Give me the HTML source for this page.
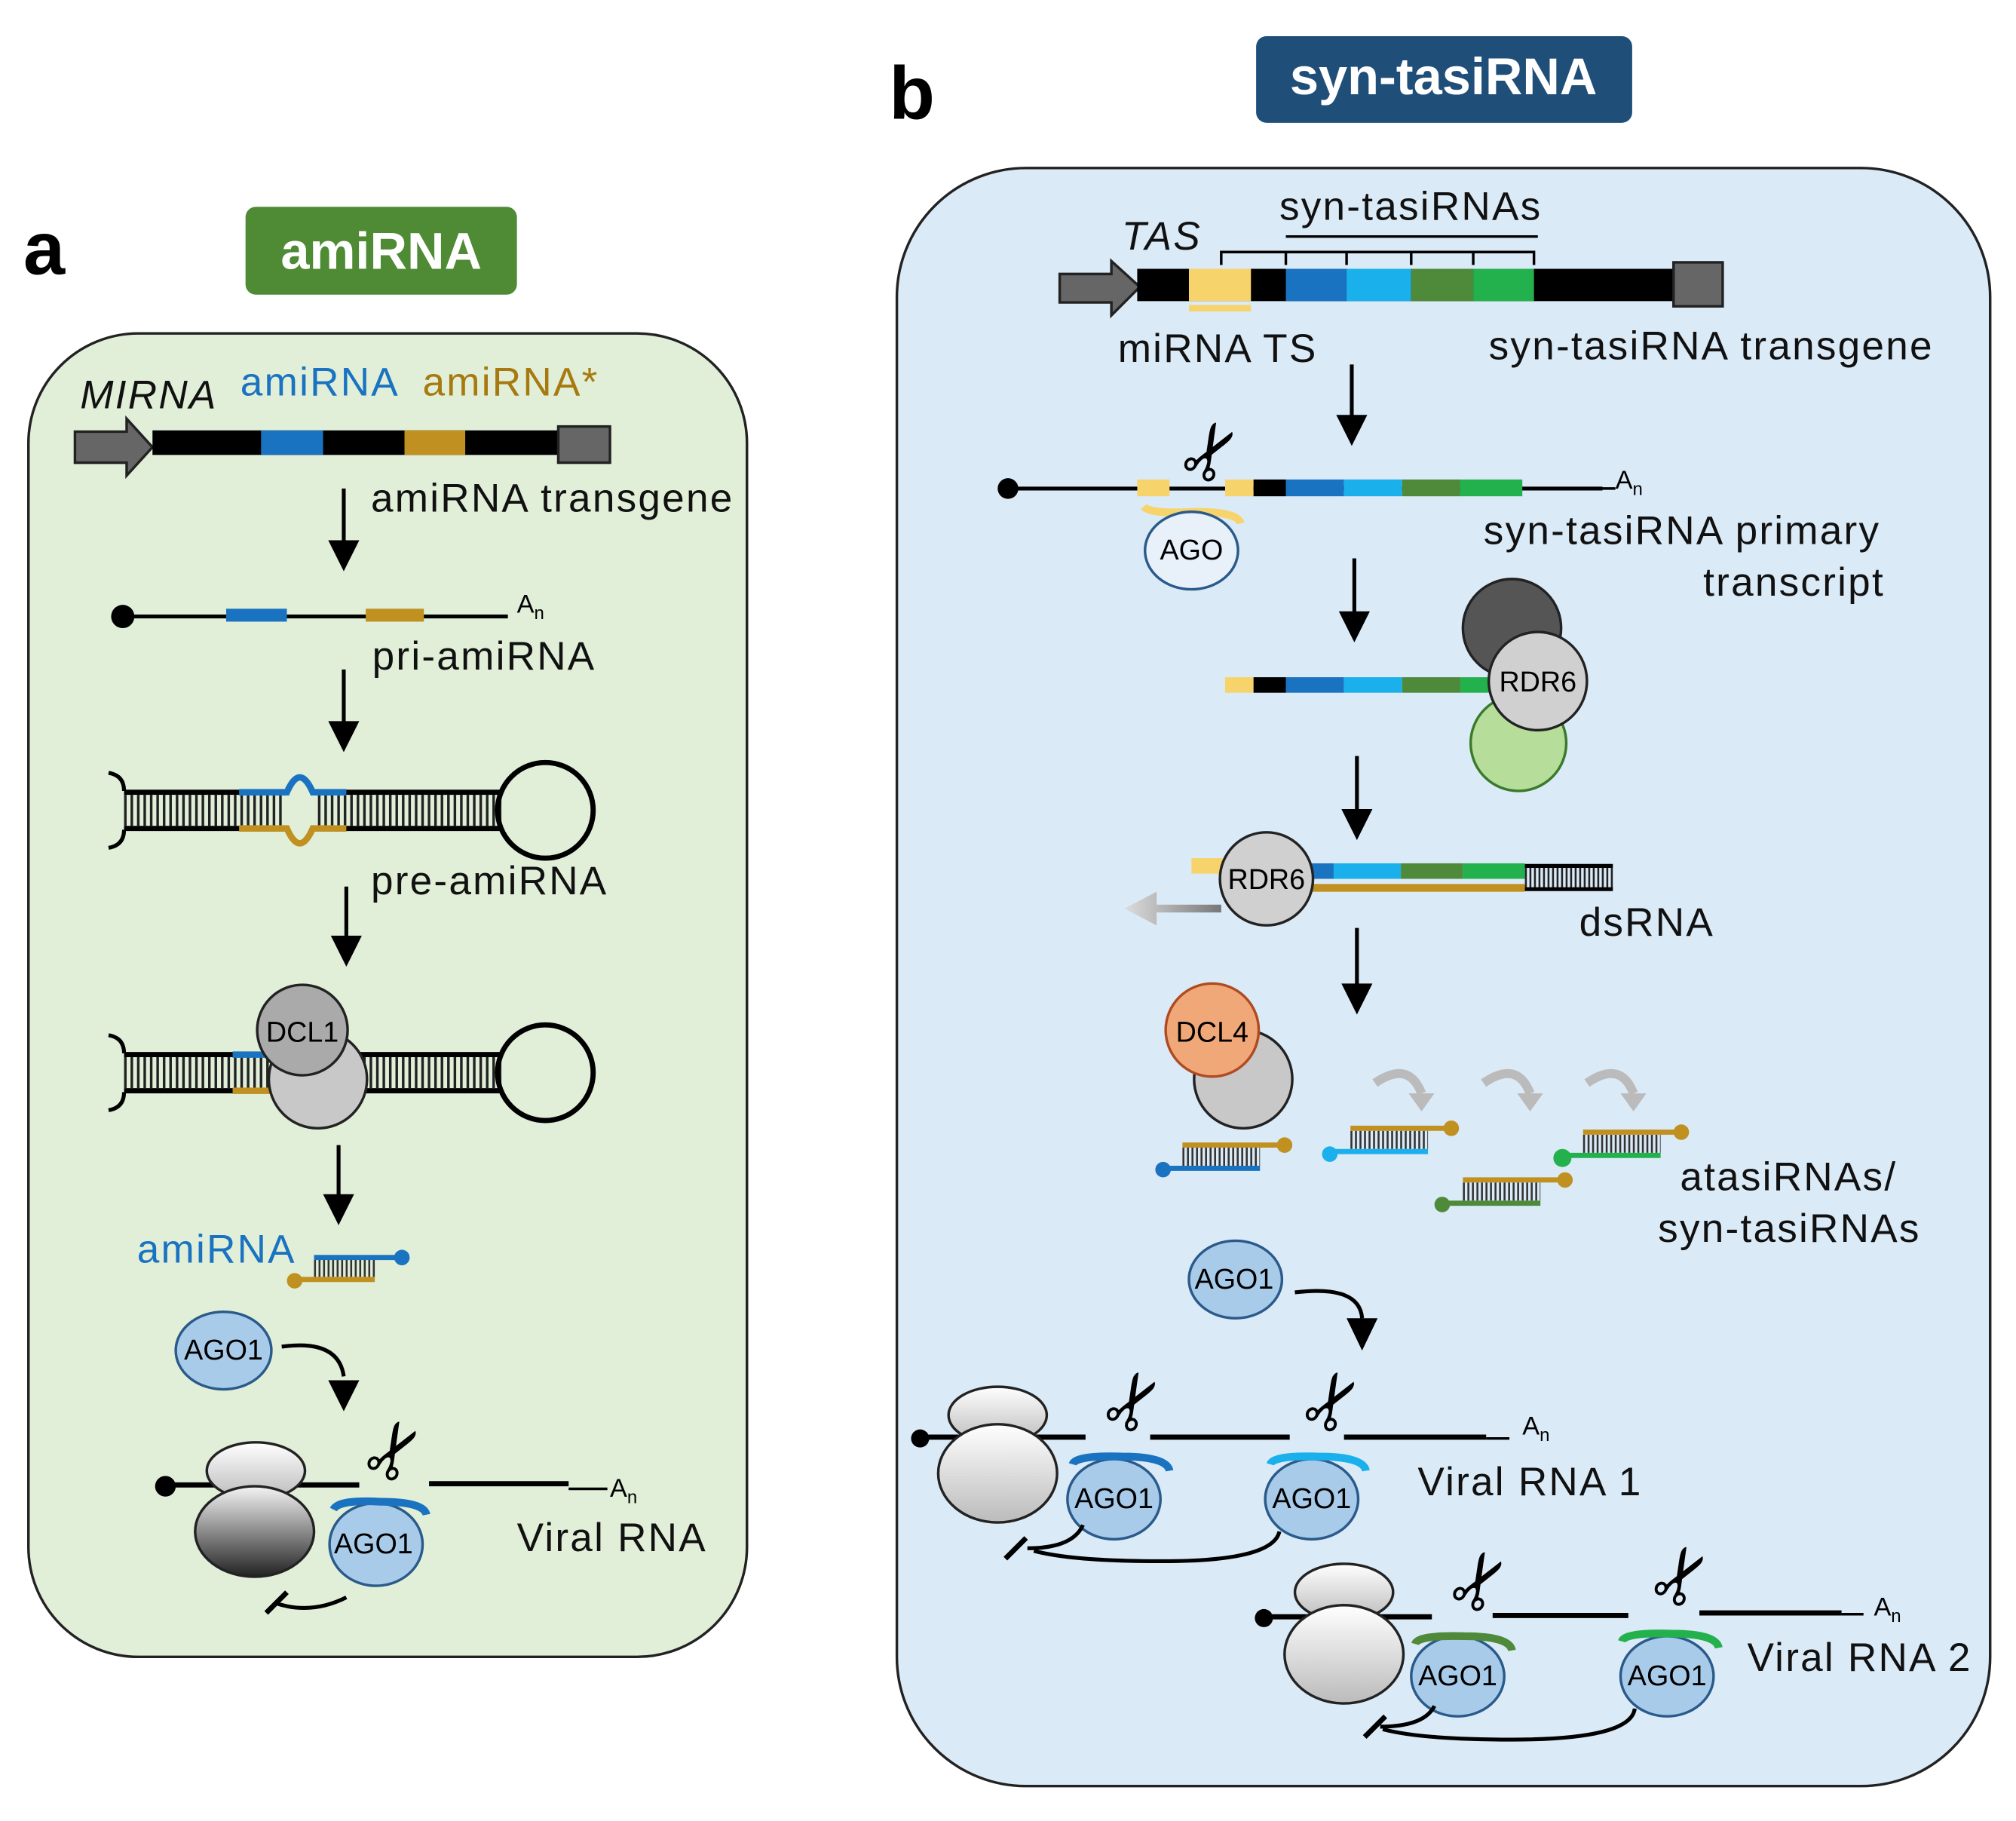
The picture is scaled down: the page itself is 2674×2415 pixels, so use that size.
<!DOCTYPE html>
<html><head><meta charset="utf-8"><style>
html,body{margin:0;padding:0;background:#fff;}
svg{display:block;}
text{font-family:"Liberation Sans",sans-serif;}
</style></head><body>
<svg width="2674" height="2415" viewBox="0 0 1560 1409" preserveAspectRatio="none" xmlns="http://www.w3.org/2000/svg">
<defs>
<linearGradient id="dk" x1="0" y1="0" x2="0" y2="1"><stop offset="0" stop-color="#f4f4f4"/><stop offset="1" stop-color="#222"/></linearGradient>
<linearGradient id="wt" x1="0" y1="0" x2="0" y2="1"><stop offset="0" stop-color="#fff"/><stop offset="1" stop-color="#bbb"/></linearGradient>
<linearGradient id="ga" x1="1" y1="0" x2="0" y2="0"><stop offset="0" stop-color="#777"/><stop offset="1" stop-color="#ddd"/></linearGradient>
</defs>
<style>
.lbl{font-size:31px;fill:#111;letter-spacing:1.3px;}
.ar{stroke:#000;stroke-width:3;fill:none;}
.hd{fill:#000;}
.sc{font-size:58px;}
</style>

<!-- Panel a -->
<text x="18" y="212" font-size="58" font-weight="bold">a</text>
<rect x="190" y="160" width="210" height="68" rx="8" fill="#4f8a34"/>
<text x="295" y="208" font-size="40" font-weight="bold" fill="#fff" text-anchor="middle">amiRNA</text>
<rect x="22" y="258" width="556" height="1024" rx="85" fill="#e1efd9" stroke="#222" stroke-width="2"/>

<text x="62" y="316" font-style="italic" class="lbl">MIRNA</text>
<text x="186" y="306" class="lbl" style="fill:#1a73c0">amiRNA</text>
<text x="327" y="306" class="lbl" style="fill:#a77a10">amiRNA*</text>
<path d="M58,334 H98 V324 L118,346 L98,368 V358 H58 Z" fill="#666" stroke="#222" stroke-width="2"/>
<rect x="118" y="333" width="314" height="19" fill="#000"/>
<rect x="202" y="333" width="48" height="19" fill="#1a73c0"/>
<rect x="313" y="333" width="47" height="19" fill="#c09020"/>
<rect x="432" y="330" width="40" height="28" fill="#666" stroke="#222" stroke-width="2"/>
<line x1="266" y1="378" x2="266" y2="420" class="ar"/><path d="M254,418 L278,418 L266,442 z" class="hd"/>
<text x="287" y="396" class="lbl">amiRNA transgene</text>

<circle cx="95" cy="477" r="9" fill="#000"/>
<line x1="95" y1="477" x2="393" y2="477" stroke="#000" stroke-width="3"/>
<rect x="175" y="471" width="47" height="10" fill="#1a73c0"/>
<rect x="283" y="471" width="45" height="10" fill="#c09020"/>
<text x="400" y="474" font-size="20">A<tspan font-size="14" dy="5">n</tspan></text>
<text x="288" y="518" class="lbl">pri-amiRNA</text>
<line x1="266" y1="518" x2="266" y2="560" class="ar"/><path d="M254,558 L278,558 L266,582 z" class="hd"/>

<g>
<path d="M84,598 Q96,600 96,612 M84,656 Q96,654 96,642" stroke="#000" stroke-width="3" fill="none"/>
<line x1="96" y1="627" x2="388" y2="627" stroke="#222" stroke-width="24" stroke-dasharray="2 3"/>
<line x1="96" y1="613" x2="388" y2="613" stroke="#000" stroke-width="4"/>
<line x1="96" y1="641" x2="388" y2="641" stroke="#000" stroke-width="4"/>
<rect x="220" y="605" width="24" height="44" fill="#e1efd9"/>
<path d="M185,613 H222 Q232,590 242,613 H268" stroke="#1a73c0" stroke-width="5" fill="none"/>
<path d="M185,641 H222 Q232,664 242,641 H268" stroke="#c09020" stroke-width="5" fill="none"/>
<circle cx="422" cy="627" r="37" fill="none" stroke="#000" stroke-width="4"/>
</g>
<text x="287" y="692" class="lbl">pre-amiRNA</text>
<line x1="268" y1="686" x2="268" y2="726" class="ar"/><path d="M256,724 L280,724 L268,748 z" class="hd"/>

<g>
<path d="M84,801 Q96,803 96,815 M84,859 Q96,857 96,845" stroke="#000" stroke-width="3" fill="none"/>
<line x1="96" y1="830" x2="388" y2="830" stroke="#222" stroke-width="24" stroke-dasharray="2 3"/>
<line x1="96" y1="816" x2="388" y2="816" stroke="#000" stroke-width="4"/>
<line x1="96" y1="844" x2="388" y2="844" stroke="#000" stroke-width="4"/>
<line x1="180" y1="816" x2="210" y2="816" stroke="#1a73c0" stroke-width="5"/>
<line x1="180" y1="844" x2="210" y2="844" stroke="#c09020" stroke-width="5"/>
<circle cx="422" cy="830" r="37" fill="none" stroke="#000" stroke-width="4"/>
<circle cx="246" cy="835" r="38" fill="#c8c8c8" stroke="#222" stroke-width="2"/>
<circle cx="234" cy="797" r="35" fill="#aaa" stroke="#222" stroke-width="2"/>
<text x="234" y="806" font-size="22" text-anchor="middle">DCL1</text>
</g>
<line x1="262" y1="886" x2="262" y2="926" class="ar"/><path d="M250,924 L274,924 L262,948 z" class="hd"/>

<text x="106" y="977" class="lbl" style="fill:#1a73c0">amiRNA</text>
<line x1="243" y1="981" x2="292" y2="981" stroke="#333" stroke-width="14" stroke-dasharray="1.5 2"/>
<line x1="243" y1="973" x2="310" y2="973" stroke="#1a73c0" stroke-width="4"/><circle cx="311" cy="973" r="6" fill="#1a73c0"/>
<line x1="228" y1="990" x2="290" y2="990" stroke="#c09020" stroke-width="4"/><circle cx="228" cy="991" r="6" fill="#c09020"/>

<ellipse cx="173" cy="1045" rx="37" ry="30" fill="#a9cbea" stroke="#2a5a8a" stroke-width="2"/>
<text x="173" y="1052" font-size="22" text-anchor="middle">AGO1</text>
<path d="M218,1042 Q262,1036 266,1065" class="ar"/><path d="M254,1068 L278,1068 L266,1092 z" class="hd"/>

<line x1="128" y1="1149" x2="278" y2="1149" stroke="#000" stroke-width="4"/>
<circle cx="128" cy="1150" r="8" fill="#000"/>
<line x1="332" y1="1148" x2="440" y2="1148" stroke="#000" stroke-width="4"/>
<line x1="440" y1="1152" x2="470" y2="1152" stroke="#000" stroke-width="2"/>
<text x="472" y="1158" font-size="20">A<tspan font-size="14" dy="5">n</tspan></text>
<ellipse cx="198" cy="1138" rx="38" ry="22" fill="url(#wt)" stroke="#222" stroke-width="2"/>
<ellipse cx="197" cy="1185" rx="46" ry="35" fill="url(#dk)" stroke="#222" stroke-width="2"/>
<ellipse cx="291" cy="1195" rx="36" ry="32" fill="#a9cbea" stroke="#2a5a8a" stroke-width="2"/>
<text x="289" y="1202" font-size="22" text-anchor="middle">AGO1</text>
<path d="M258,1168 Q262,1160 295,1162 Q328,1162 330,1172" stroke="#1a73c0" stroke-width="6" fill="none"/>
<text x="310" y="1140" class="sc" transform="rotate(-60 310 1125)" text-anchor="middle">✂</text>
<text x="400" y="1200" class="lbl">Viral RNA</text>
<path d="M268,1236 Q240,1250 212,1240" stroke="#000" stroke-width="3" fill="none"/>
<line x1="206" y1="1248" x2="222" y2="1232" stroke="#000" stroke-width="4"/>

<!-- Panel b -->
<text x="688" y="92" font-size="58" font-weight="bold">b</text>
<rect x="972" y="28" width="291" height="67" rx="8" fill="#1f4e79"/>
<text x="1117" y="73" font-size="40" font-weight="bold" fill="#fff" text-anchor="middle">syn-tasiRNA</text>
<rect x="694" y="130" width="846" height="1252" rx="100" fill="#dbeaf7" stroke="#222" stroke-width="2"/>

<text x="868" y="193" font-style="italic" class="lbl">TAS</text>
<text x="990" y="170" class="lbl">syn-tasiRNAs</text>
<line x1="995" y1="183" x2="1190" y2="183" stroke="#000" stroke-width="2"/>
<path d="M945,205 V195 H1187 V205 M995,195 V205 M1042,195 V205 M1092,195 V205 M1140,195 V205" stroke="#000" stroke-width="2" fill="none"/>
<path d="M820,212 H860 V202 L882,222 L860,244 V234 H820 Z" fill="#666" stroke="#222" stroke-width="2"/>
<rect x="880" y="208" width="415" height="25" fill="#000"/>
<rect x="920" y="208" width="48" height="25" fill="#f7d36b"/>
<rect x="920" y="236" width="48" height="5" fill="#f7d36b"/>
<rect x="995" y="208" width="47" height="25" fill="#1a73c0"/>
<rect x="1042" y="208" width="50" height="25" fill="#1ab0ec"/>
<rect x="1092" y="208" width="48" height="25" fill="#4e8a3a"/>
<rect x="1140" y="208" width="47" height="25" fill="#22b14c"/>
<rect x="1295" y="203" width="38" height="34" fill="#666" stroke="#222" stroke-width="2"/>
<text x="865" y="280" class="lbl">miRNA TS</text>
<text x="1152" y="278" class="lbl">syn-tasiRNA transgene</text>
<line x1="1046" y1="282" x2="1046" y2="323" class="ar"/><path d="M1034,321 L1058,321 L1046,345 z" class="hd"/>

<circle cx="780" cy="378" r="8" fill="#000"/>
<line x1="780" y1="378" x2="1240" y2="378" stroke="#000" stroke-width="3"/>
<line x1="1240" y1="378" x2="1250" y2="378" stroke="#000" stroke-width="2"/>
<rect x="880" y="371" width="25" height="13" fill="#f7d36b"/>
<rect x="948" y="371" width="22" height="13" fill="#f7d36b"/>
<rect x="970" y="371" width="25" height="13" fill="#000"/>
<rect x="995" y="371" width="45" height="13" fill="#1a73c0"/>
<rect x="1040" y="371" width="45" height="13" fill="#1ab0ec"/>
<rect x="1085" y="371" width="45" height="13" fill="#4e8a3a"/>
<rect x="1130" y="371" width="48" height="13" fill="#22b14c"/>
<text x="1250" y="378" font-size="20">A<tspan font-size="14" dy="5">n</tspan></text>
<path d="M885,392 Q890,398 925,396 Q958,396 960,405" stroke="#f7d36b" stroke-width="6" fill="none"/>
<ellipse cx="922" cy="426" rx="36" ry="30" fill="#e8f0fa" stroke="#2a5a8a" stroke-width="2"/>
<text x="922" y="433" font-size="22" text-anchor="middle">AGO</text>
<text x="942" y="367" class="sc" transform="rotate(-60 942 352)" text-anchor="middle">✂</text>
<text x="1148" y="421" class="lbl">syn-tasiRNA primary</text>
<text x="1318" y="461" class="lbl">transcript</text>
<line x1="1048" y1="432" x2="1048" y2="475" class="ar"/><path d="M1036,473 L1060,473 L1048,497 z" class="hd"/>

<rect x="948" y="524" width="22" height="12" fill="#f7d36b"/>
<rect x="970" y="524" width="25" height="12" fill="#000"/>
<rect x="995" y="524" width="45" height="12" fill="#1a73c0"/>
<rect x="1040" y="524" width="45" height="12" fill="#1ab0ec"/>
<rect x="1085" y="524" width="45" height="12" fill="#4e8a3a"/>
<rect x="1130" y="524" width="30" height="12" fill="#22b14c"/>
<circle cx="1170" cy="486" r="38" fill="#555" stroke="#222" stroke-width="2"/>
<circle cx="1175" cy="575" r="37" fill="#b6dd9a" stroke="#3a7a2a" stroke-width="2"/>
<circle cx="1190" cy="527" r="38" fill="#d0d0d0" stroke="#222" stroke-width="2"/>
<text x="1190" y="535" font-size="22" text-anchor="middle">RDR6</text>
<line x1="1050" y1="585" x2="1050" y2="628" class="ar"/><path d="M1038,626 L1062,626 L1050,650 z" class="hd"/>

<path d="M945,700 L895,700 L895,690 L870,703 L895,716 L895,706 L945,706 Z" fill="url(#ga)"/>
<rect x="922" y="664" width="26" height="12" fill="#f7d36b"/>
<rect x="1000" y="668" width="32" height="12" fill="#1a73c0"/>
<rect x="1032" y="668" width="52" height="12" fill="#1ab0ec"/>
<rect x="1084" y="668" width="48" height="12" fill="#4e8a3a"/>
<rect x="1132" y="668" width="48" height="12" fill="#22b14c"/>
<rect x="1010" y="684" width="170" height="6" fill="#c09020"/>
<line x1="1180" y1="679" x2="1248" y2="679" stroke="#222" stroke-width="20" stroke-dasharray="1.5 2"/>
<line x1="1180" y1="670" x2="1248" y2="670" stroke="#000" stroke-width="3"/>
<line x1="1180" y1="688" x2="1248" y2="688" stroke="#000" stroke-width="3"/>
<circle cx="980" cy="680" r="36" fill="#d0d0d0" stroke="#222" stroke-width="2"/>
<text x="980" y="688" font-size="22" text-anchor="middle">RDR6</text>
<text x="1222" y="724" class="lbl">dsRNA</text>
<line x1="1050" y1="718" x2="1050" y2="763" class="ar"/><path d="M1038,761 L1062,761 L1050,785 z" class="hd"/>

<circle cx="962" cy="835" r="38" fill="#c8c8c8" stroke="#222" stroke-width="2"/>
<circle cx="938" cy="797" r="36" fill="#f0a878" stroke="#b04a20" stroke-width="2"/>
<text x="938" y="806" font-size="22" text-anchor="middle">DCL4</text>

<line x1="915" y1="895" x2="975" y2="895" stroke="#333" stroke-width="14" stroke-dasharray="1.5 2"/>
<line x1="915" y1="886" x2="993" y2="886" stroke="#c09020" stroke-width="4"/><circle cx="994" cy="886" r="6" fill="#c09020"/>
<line x1="900" y1="904" x2="975" y2="904" stroke="#1a73c0" stroke-width="4"/><circle cx="900" cy="905" r="6" fill="#1a73c0"/>
<line x1="1045" y1="882" x2="1105" y2="882" stroke="#333" stroke-width="14" stroke-dasharray="1.5 2"/>
<line x1="1045" y1="873" x2="1122" y2="873" stroke="#c09020" stroke-width="4"/><circle cx="1123" cy="873" r="6" fill="#c09020"/>
<line x1="1030" y1="891" x2="1105" y2="891" stroke="#1ab0ec" stroke-width="4"/><circle cx="1029" cy="893" r="6" fill="#1ab0ec"/>
<line x1="1132" y1="922" x2="1192" y2="922" stroke="#333" stroke-width="14" stroke-dasharray="1.5 2"/>
<line x1="1132" y1="913" x2="1210" y2="913" stroke="#c09020" stroke-width="4"/><circle cx="1211" cy="913" r="6" fill="#c09020"/>
<line x1="1117" y1="931" x2="1192" y2="931" stroke="#4e8a3a" stroke-width="4"/><circle cx="1116" cy="932" r="6" fill="#4e8a3a"/>
<line x1="1225" y1="885" x2="1285" y2="885" stroke="#333" stroke-width="14" stroke-dasharray="1.5 2"/>
<line x1="1225" y1="876" x2="1300" y2="876" stroke="#c09020" stroke-width="4"/><circle cx="1301" cy="876" r="6" fill="#c09020"/>
<line x1="1210" y1="894" x2="1285" y2="894" stroke="#22b14c" stroke-width="4"/><circle cx="1209" cy="896" r="7" fill="#22b14c"/>
<g fill="none" stroke="#bbb" stroke-width="7">
<path d="M1064,838 Q1090,820 1100,846"/><path d="M1148,838 Q1174,820 1184,846"/><path d="M1228,838 Q1254,820 1264,846"/>
</g>
<g fill="#bbb"><path d="M1090,846 L1110,846 L1100,860 z"/><path d="M1174,846 L1194,846 L1184,860 z"/><path d="M1254,846 L1274,846 L1264,860 z"/></g>
<text x="1300" y="921" class="lbl">atasiRNAs/</text>
<text x="1283" y="961" class="lbl">syn-tasiRNAs</text>

<ellipse cx="956" cy="990" rx="36" ry="30" fill="#a9cbea" stroke="#2a5a8a" stroke-width="2"/>
<text x="955" y="997" font-size="22" text-anchor="middle">AGO1</text>
<path d="M1002,1000 Q1052,994 1054,1020" class="ar"/><path d="M1042,1020 L1066,1020 L1054,1045 z" class="hd"/>

<circle cx="712" cy="1113" r="7" fill="#000"/>
<line x1="712" y1="1112" x2="840" y2="1112" stroke="#000" stroke-width="4"/>
<line x1="890" y1="1112" x2="998" y2="1112" stroke="#000" stroke-width="4"/>
<line x1="1040" y1="1112" x2="1150" y2="1112" stroke="#000" stroke-width="4"/>
<line x1="1150" y1="1113" x2="1168" y2="1113" stroke="#000" stroke-width="2"/>
<text x="1178" y="1110" font-size="20">A<tspan font-size="14" dy="5">n</tspan></text>
<ellipse cx="772" cy="1095" rx="38" ry="22" fill="url(#wt)" stroke="#222" stroke-width="2"/>
<ellipse cx="772" cy="1140" rx="46" ry="38" fill="url(#wt)" stroke="#222" stroke-width="2"/>
<ellipse cx="862" cy="1160" rx="36" ry="31" fill="#a9cbea" stroke="#2a5a8a" stroke-width="2"/>
<text x="862" y="1167" font-size="22" text-anchor="middle">AGO1</text>
<path d="M830,1133 Q832,1126 868,1127 Q903,1127 905,1138" stroke="#1a73c0" stroke-width="6" fill="none"/>
<ellipse cx="1015" cy="1160" rx="36" ry="31" fill="#a9cbea" stroke="#2a5a8a" stroke-width="2"/>
<text x="1015" y="1167" font-size="22" text-anchor="middle">AGO1</text>
<path d="M983,1133 Q985,1126 1020,1127 Q1055,1127 1057,1138" stroke="#1ab0ec" stroke-width="6" fill="none"/>
<text x="882" y="1102" class="sc" transform="rotate(-60 882 1087)" text-anchor="middle">✂</text>
<text x="1036" y="1102" class="sc" transform="rotate(-60 1036 1087)" text-anchor="middle">✂</text>
<text x="1097" y="1157" class="lbl">Viral RNA 1</text>
<path d="M990,1185 Q985,1208 900,1208 Q830,1208 800,1200" stroke="#000" stroke-width="3" fill="none"/>
<path d="M838,1180 Q830,1198 795,1198" stroke="#000" stroke-width="3" fill="none"/>
<line x1="778" y1="1206" x2="794" y2="1190" stroke="#000" stroke-width="4"/>

<circle cx="978" cy="1252" r="7" fill="#000"/>
<line x1="978" y1="1251" x2="1108" y2="1251" stroke="#000" stroke-width="4"/>
<line x1="1155" y1="1250" x2="1260" y2="1250" stroke="#000" stroke-width="4"/>
<line x1="1315" y1="1248" x2="1425" y2="1248" stroke="#000" stroke-width="4"/>
<line x1="1425" y1="1249" x2="1442" y2="1249" stroke="#000" stroke-width="2"/>
<text x="1450" y="1250" font-size="20">A<tspan font-size="14" dy="5">n</tspan></text>
<ellipse cx="1040" cy="1232" rx="38" ry="22" fill="url(#wt)" stroke="#222" stroke-width="2"/>
<ellipse cx="1040" cy="1280" rx="46" ry="38" fill="url(#wt)" stroke="#222" stroke-width="2"/>
<ellipse cx="1128" cy="1297" rx="36" ry="31" fill="#a9cbea" stroke="#2a5a8a" stroke-width="2"/>
<text x="1128" y="1304" font-size="22" text-anchor="middle">AGO1</text>
<path d="M1095,1272 Q1097,1265 1133,1266 Q1168,1266 1170,1277" stroke="#4e8a3a" stroke-width="6" fill="none"/>
<ellipse cx="1290" cy="1297" rx="36" ry="31" fill="#a9cbea" stroke="#2a5a8a" stroke-width="2"/>
<text x="1290" y="1304" font-size="22" text-anchor="middle">AGO1</text>
<path d="M1255,1270 Q1257,1263 1293,1264 Q1328,1264 1330,1275" stroke="#22b14c" stroke-width="6" fill="none"/>
<text x="1150" y="1241" class="sc" transform="rotate(-60 1150 1226)" text-anchor="middle">✂</text>
<text x="1306" y="1237" class="sc" transform="rotate(-60 1306 1222)" text-anchor="middle">✂</text>
<text x="1352" y="1293" class="lbl">Viral RNA 2</text>
<path d="M1265,1322 Q1262,1346 1170,1346 Q1100,1346 1070,1338" stroke="#000" stroke-width="3" fill="none"/>
<path d="M1110,1320 Q1102,1336 1068,1336" stroke="#000" stroke-width="3" fill="none"/>
<line x1="1056" y1="1344" x2="1072" y2="1328" stroke="#000" stroke-width="4"/>
</svg>
</body></html>
